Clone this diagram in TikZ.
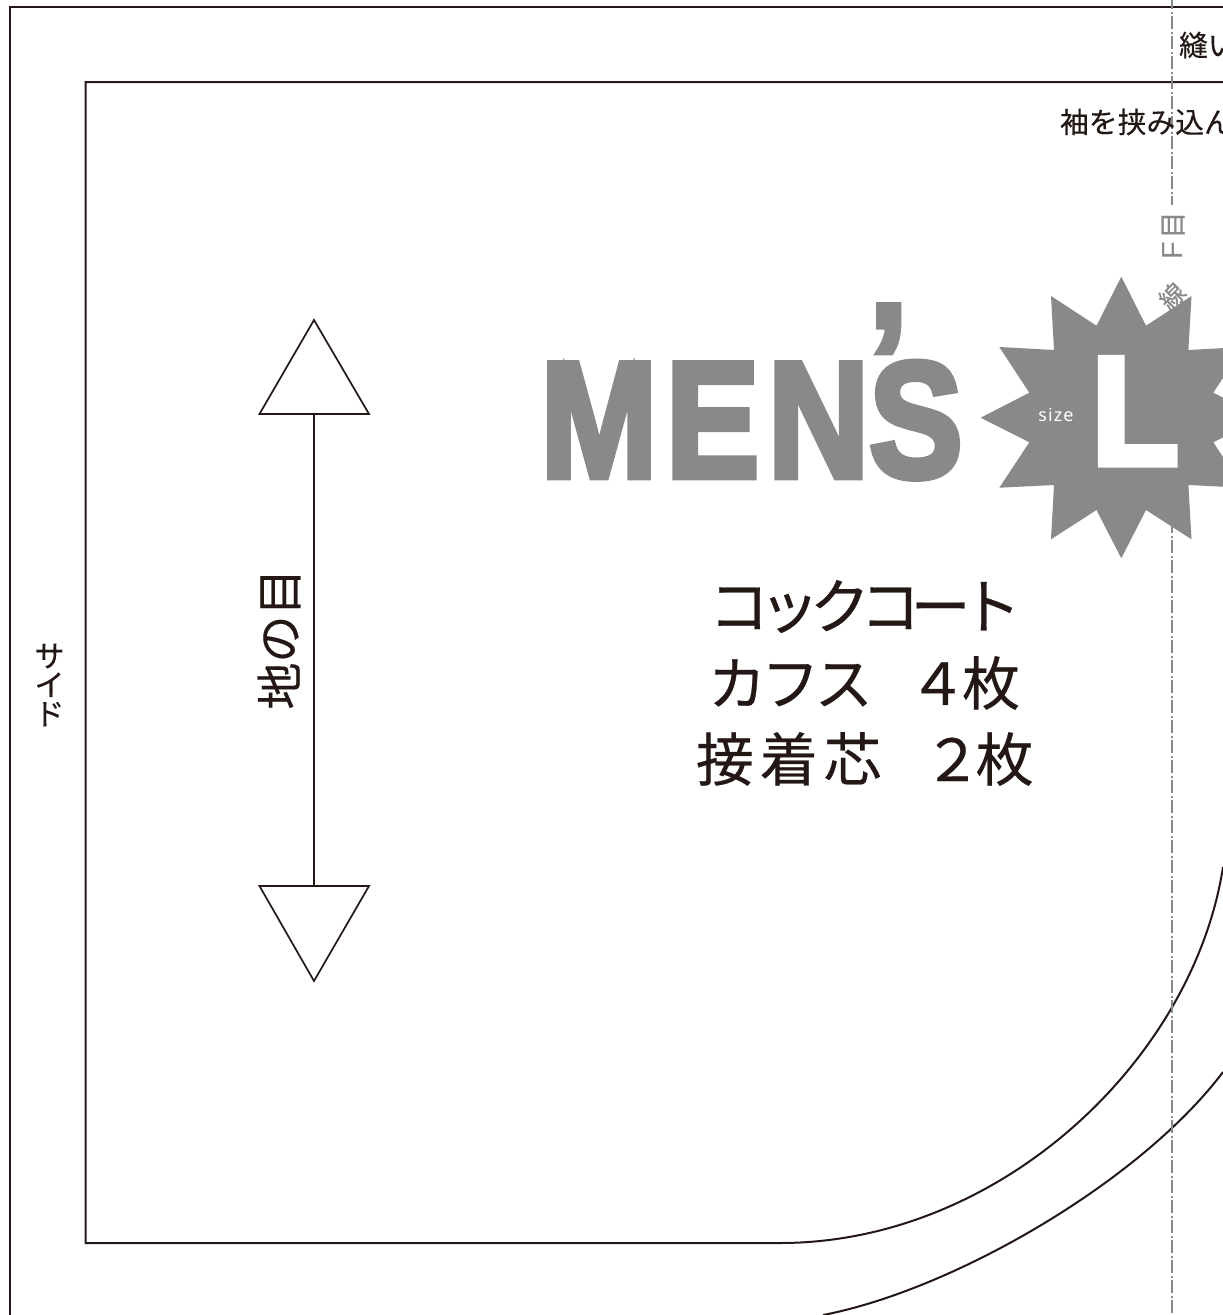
\documentclass[tikz,border=0pt]{standalone}
\usepackage{fontspec}
\setmainfont{Liberation Sans}
\newfontfamily\jp[FakeBold=0.35]{Noto Sans CJK JP}
\newfontfamily\jpa[FakeBold=0.35,LetterSpace=-16]{Noto Sans CJK JP}
\newfontfamily\jpb[FakeBold=0.35,LetterSpace=-8]{Noto Sans CJK JP}
\newfontfamily\jpc[FakeBold=0.35,LetterSpace=10]{Noto Sans CJK JP}
\newfontfamily\heavy[FakeBold=4]{Liberation Sans Bold}
\newfontfamily\heavyspaced[FakeBold=4,LetterSpace=6]{Liberation Sans Bold}
\newfontfamily\thin[LetterSpace=6]{Noto Sans}
\definecolor{ink}{HTML}{231815}
\definecolor{mid}{HTML}{898989}
\tikzset{
  cutline/.style={draw=ink,line width=2pt},
  foldline/.style={draw=mid,line width=1.8pt,dash pattern=on 13pt off 2.5pt on 2pt off 2.5pt},
  gtriangle/.style={draw=ink,line width=1.7pt,fill=white,line join=miter},
  label/.style={font=\jp,text=ink,inner sep=0pt,outer sep=0pt},
  graylabel/.style={text=mid,inner sep=0pt,outer sep=0pt},
}
\begin{document}
\begin{tikzpicture}[x=1pt,y=-1pt]
\useasboundingbox (0,0) rectangle (1223,1315);
\begin{scope}
\clip (0,0) rectangle (1223,1315);
\fill[white] (0,0) rectangle (1223,1315);
% frames
\draw[cutline] (1300,6.5) -- (9.7,6.5) -- (9.7,1330);
\draw[cutline] (1300,82) -- (85.5,82) -- (85.5,1243) -- (780,1243)
  .. controls (1000,1243) and (1193,1060) .. (1223,867);
\draw[cutline] (823,1315) .. controls (953,1290) and (1140,1182) .. (1223,1072);
% fold line
\coordinate (foldtop) at (1172,-4);
\coordinate (foldmid) at (1172,205);
\coordinate (foldstart) at (1172,520);
\coordinate (foldend) at (1172,1320);
\draw[foldline] (foldtop) -- (foldmid);
\draw[foldline] (foldstart) -- (foldend);
% top labels
\node[label,anchor=west,font=\jp\fontsize{28.8}{30}\selectfont] (seam) at (1179,45) {縫い};
\node[label,anchor=west,font=\jp\fontsize{28.8}{30}\selectfont] (sleeve) at (1060,122) {袖を挟み込ん};
% side label
\node[label,align=center,font=\jp\fontsize{30}{29}\selectfont] (side) at (49.5,685) {サ\\イ\\ド};
% grain
\node[label,rotate=90,font=\jp\fontsize{47}{48}\selectfont] (grain) at (279,639) {地の目};
\coordinate (ga) at (314,414);
\coordinate (gb) at (314,886);
\coordinate (gatip) at (314,320);
\coordinate (gbtip) at (314,981);
\draw[gtriangle] (ga) -- (gb);
\draw[gtriangle] (259.5,414) -- (gatip) -- (369,414) -- cycle;
\draw[gtriangle] (259.5,886) -- (gbtip) -- (369,886) -- cycle;
% rotated gray
\node[graylabel,rotate=90,font=\jp\fontsize{27}{28}\selectfont] (me) at (1173,225) {目};
\node[graylabel,rotate=90,font=\fontsize{29}{30}\selectfont] (ef) at (1173,251) {F};
\node[graylabel,rotate=45,font=\jp\fontsize{25}{26}\selectfont] (sen) at (1172,296) {線};
% star
\fill[mid] (1121.3,276.7) -- (1146,325.7) -- (1191.5,296) -- (1188.4,350) -- (1243.3,347)
 -- (1213.3,392.7) -- (1262,417.7) -- (1213.3,442.3) -- (1243.3,487.7) -- (1188.4,485)
 -- (1191.5,539.3) -- (1146,510) -- (1121.3,558.3) -- (1096.5,510) -- (1051,539.3)
 -- (1054,485) -- (999.3,487.7) -- (1029.3,442.3) -- (980.7,417.7) -- (1029.3,392.7)
 -- (999.3,347) -- (1054,350) -- (1051,296) -- (1096.5,325.7) -- cycle;
\node[inner sep=0pt,text=white,font=\thin\fontsize{18}{18}\selectfont] (size) at (1056,415) {size};
\node[inner sep=0pt,text=white,anchor=base west,xscale=.93,font=\heavy\fontsize{155}{155}\selectfont] (ell) at (1091,464.5) {L};
% mens
\node[inner sep=0pt,text=mid,anchor=base west,xscale=.85,font=\heavyspaced\fontsize{165}{165}\selectfont] (mens) at (540.5,477) {MEN\rlap{\raisebox{58pt}{’}}S};
\fill[white] (530,335) rectangle (868,358.2);
% centre labels
\node[label,font=\jpa\fontsize{60}{60}\selectfont] (t1) at (865,606.5) {コックコート};
\node[label,anchor=west,font=\jpb\fontsize{58}{60}\selectfont] (t2) at (708,683) {カフス\hspace{.62em}４枚};
\node[label,anchor=west,font=\jpc\fontsize{58}{60}\selectfont] (t3) at (696,759) {接着芯\hspace{.72em}２\hspace{-.1em}枚};
\end{scope}
\end{tikzpicture}
\end{document}
